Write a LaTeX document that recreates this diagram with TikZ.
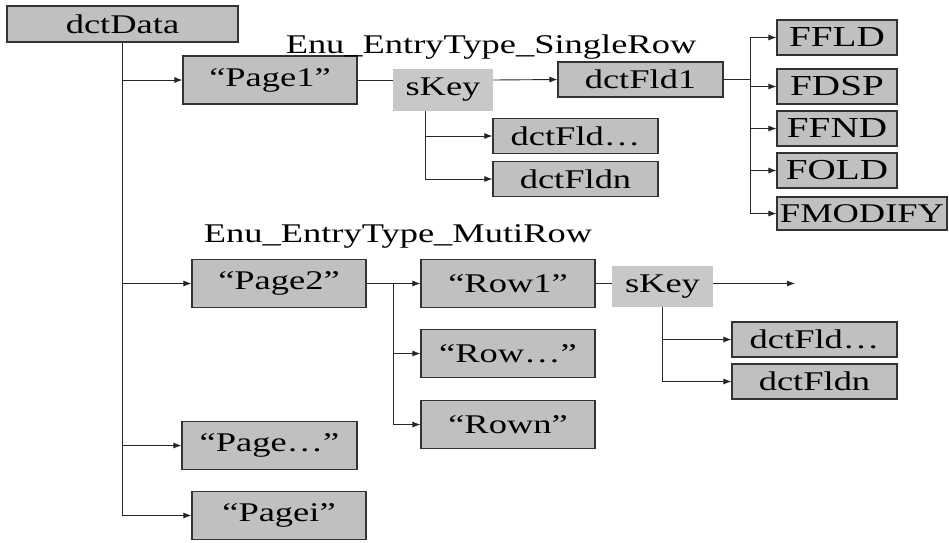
\documentclass[tikz,border=0pt]{standalone}
\usepackage{fontspec}
\setmainfont{Liberation Serif}[FakeStretch=1.35]
\usetikzlibrary{arrows.meta}
\definecolor{boxgray}{HTML}{C0C0C0}
\definecolor{keygray}{HTML}{C8C8C8}
\newcommand{\bigfont}{\fontsize{27}{30}\selectfont}
\begin{document}
\begin{tikzpicture}[x=1pt, y=-1pt,
  box/.style={rectangle, draw=black!80, line width=1.1pt, fill=boxgray,
              inner sep=0pt, minimum width=174pt, minimum height=48pt,
              font=\bigfont},
  fld/.style={box, minimum width=165pt, minimum height=35pt},
  flag/.style={box, minimum width=120pt, minimum height=35pt,
               font=\fontsize{29}{32}\selectfont},
  skey/.style={rectangle, fill=keygray, inner sep=0pt, minimum width=100pt,
               minimum height=42pt, font=\bigfont},
  lbl/.style={anchor=base, inner sep=0pt, font=\bigfont},
  ln/.style={line width=0.9pt, black!85},
  arr/.style={ln, -{Latex[length=8pt,width=6pt]}}
]
  \useasboundingbox (0,0) rectangle (949,542);

  % Root
  \node[box, minimum width=231pt, minimum height=36pt] (data) at (122.5,24) {dctData};
  \node[box] (p1) at (270,80) {“Page1”};
  \node[box] (p2) at (279,283.5) {“Page2”};
  \node[box, minimum width=175pt] (pa) at (269.5,445.5) {“Page\ldots”};
  \node[box] (pi) at (279,515.5) {“Pagei”};
  \draw[ln] (data.south) -- (data.south |- pi.west);
  \foreach \p in {p1,p2,pa,pi}
    \draw[arr] (data.south |- \p.west) -- (\p.west);

  % Single row
  \node[lbl] (single) at (491,53) {Enu\_EntryType\_SingleRow};
  \node[skey] (key1) at (443,90) {sKey};
  \node[fld] (fld1) at (640.5,79.5) {dctFld1};
  \node[fld] (fa) at (575.5,136) {dctFld\ldots};
  \node[fld] (fn) at (575.5,179) {dctFldn};
  \draw[ln] (p1.east) -- (p1 -| key1.west);
  \draw[arr] (p1 -| key1.east) -- (fld1.west);
  \draw[arr] ([xshift=-18pt]key1.south) |- (fa.west);
  \draw[arr] ([xshift=-18pt]key1.south) |- (fn.west);

  % Flags
  \node[flag] (ffld) at (837,37.5) {FFLD};
  \node[flag] (fdsp) at (837,86.5) {FDSP};
  \node[flag] (ffnd) at (837,128.5) {FFND};
  \node[flag] (fold) at (837,170.5) {FOLD};
  \node[flag, minimum width=170pt, minimum height=33pt, font=\bigfont] (fmod) at (862,213.5) {FMODIFY};
  \coordinate (fb) at (750,79.5);
  \draw[ln] (fld1.east) -- (fb);
  \foreach \f in {ffld,fdsp,ffnd,fold,fmod}
    \draw[arr] (fb) |- (\f.west);

  % Multi row
  \node[lbl] (multi) at (398,242) {Enu\_EntryType\_MutiRow};
  \node[box] (r1) at (508,283.5) {“Row1”};
  \node[box] (r2) at (508,353.5) {“Row\ldots”};
  \node[box] (r3) at (508,424.5) {“Rown”};
  \coordinate (rb) at (393,283.5);
  \draw[ln] (p2.east) -- (rb);
  \foreach \r in {r1,r2,r3}
    \draw[arr] (rb) |- (\r.west);

  \node[skey, minimum width=101pt, minimum height=41pt] (key2) at (662.5,286.5) {sKey};
  \node[fld] (ga) at (814.5,339.5) {dctFld\ldots};
  \node[fld] (gn) at (814.5,381.5) {dctFldn};
  \coordinate (kend) at (795,283.5);
  \draw[ln] (r1.east) -- (r1 -| key2.west);
  \draw[arr] (r1 -| key2.east) -- (kend);
  \draw[arr] (key2.south) |- (ga.west);
  \draw[arr] (key2.south) |- (gn.west);
\end{tikzpicture}
\end{document}
